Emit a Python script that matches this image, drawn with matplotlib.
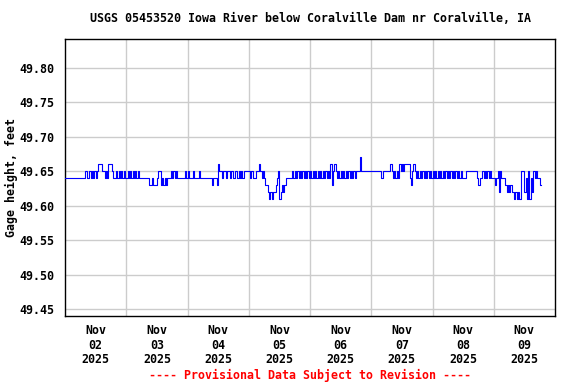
import numpy as np
import pandas as pd
import matplotlib
matplotlib.use("Agg")
import matplotlib.pyplot as plt

# ---- data: gage height readings (hundredths above 49.60 ft), every 30 min ----
start_time = "2025-11-02 00:00"
interval_minutes = 30
base_value = 49.60
gage_codes_nov02 = ["444444444444444", "45445454545", "666", "55454", "666",
                    "54454545454", "4545454545", "44444444", "334333", "455",
                    "34343", "444", "54545"]
gage_codes_nov03 = ["444444", "545444544445", "44444444", "434", "4436",
                    "5545545545545545", "4545", "5555", "454445", "56", "5454"]
gage_codes_nov05 = ["33", "2121", "22", "3451", "2323", "4444",
                    "4545454545454545454545454545454", "63", "565",
                    "4545454545454545", "55", "7"]
gage_codes_nov06 = ["5555555555555555", "4555555", "6", "545", "454", "65656",
                    "666", "4356", "54545454545454545454545454545454545454"]
gage_codes_nov08 = ["44", "555555555", "4344", "54545454", "4434", "5254", "44",
                    "323232", "212121", "55", "52415142", "5454", "433"]

y_ticks = [49.45, 49.50, 49.55, 49.60, 49.65, 49.70, 49.75, 49.80]
day_labels = ["Nov\n02\n2025", "Nov\n03\n2025", "Nov\n04\n2025", "Nov\n05\n2025",
              "Nov\n06\n2025", "Nov\n07\n2025", "Nov\n08\n2025", "Nov\n09\n2025"]

codes = "".join(gage_codes_nov02 + gage_codes_nov03 + gage_codes_nov05 +
                gage_codes_nov06 + gage_codes_nov08)
values = base_value + np.array([int(c) for c in codes]) / 100.0
times = pd.date_range(start_time, periods=len(values), freq=f"{interval_minutes}min")

font = "DejaVu Sans Mono"
plt.rcParams["font.family"] = [font]
plt.rcParams["font.weight"] = "bold"
fs = 8.4

fig = plt.figure(figsize=(5.76, 3.84), dpi=100)
ax = fig.add_axes([65 / 576, 1 - 316 / 384, 490 / 576, 277 / 384])

ax.plot(times, values, color="#0000ff", linewidth=0.8, drawstyle="steps-post", zorder=3)

ax.set_ylim(49.4403, 49.8416)
ax.set_yticks(y_ticks)
ax.set_yticklabels([f"{v:.2f}" for v in y_ticks], fontsize=fs, fontweight="bold")

day0 = pd.Timestamp(start_time)
ax.set_xlim(day0, day0 + pd.Timedelta(days=8))
midnights = [day0 + pd.Timedelta(days=i) for i in range(1, 8)]
noons = [day0 + pd.Timedelta(days=i, hours=12) for i in range(8)]
ax.set_xticks(noons)
ax.set_xticklabels(day_labels, fontsize=fs, fontweight="bold", linespacing=1.15)
ax.set_xticks(midnights, minor=True)

ax.grid(True, axis="y", color="#cccccc", linewidth=1, zorder=0)
ax.grid(True, axis="x", which="minor", color="#cccccc", linewidth=1, zorder=0)
ax.tick_params(axis="both", which="both", length=0, pad=6)
ax.tick_params(axis="y", pad=8)

for s in ax.spines.values():
    s.set_color("black")
    s.set_linewidth(1)

ax.set_ylabel("Gage height, feet", fontsize=fs, fontweight="bold")
ax.yaxis.set_label_coords((18 - 65) / 490, 0.5)

fig.text(310 / 576, 1 - 19 / 384,
         "USGS 05453520 Iowa River below Coralville Dam nr Coralville, IA",
         ha="center", va="center", fontsize=fs, fontweight="bold")
fig.text(310 / 576, 1 - 375 / 384,
         "---- Provisional Data Subject to Revision ----",
         ha="center", va="center", fontsize=fs, fontweight="bold", color="red")

fig.savefig("out.png", dpi=100)
